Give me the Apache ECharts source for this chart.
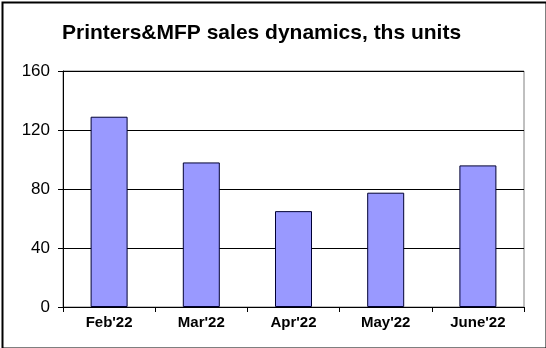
<!DOCTYPE html>
<html><head><meta charset="utf-8">
<script src="https://cdn.jsdelivr.net/npm/echarts@6/dist/echarts.min.js"></script>
<style>html,body{margin:0;padding:0;background:#fff}#c{width:546px;height:348px}</style>
</head><body><div id="c"></div>
<script>
const categories = ["Feb'22", "Mar'22", "Apr'22", "May'22", "June'22"];
const sales = [129, 98, 65, 77.5, 96];
const titleText = "Printers&MFP sales dynamics, ths units";

const chart = echarts.init(document.getElementById('c'), null, {renderer: 'canvas'});
chart.setOption({
  animation: false,
  backgroundColor: '#fff',
  title: {
    text: titleText, left: 57, top: 18,
    textStyle: {fontFamily: 'Liberation Sans', fontWeight: 'bold', fontSize: 21, color: '#000'}
  },
  graphic: [{
    type: 'rect', left: 0, top: 0, z: 100, silent: true,
    shape: {x: 0.5, y: 0.5, width: 544, height: 346},
    style: {fill: 'none', stroke: '#000', lineWidth: 2}
  }],
  grid: {left: 63, right: 22, top: 71, bottom: 41, show: true, borderColor: '#808080', borderWidth: 1},
  xAxis: {
    type: 'category', data: categories,
    axisLine: {lineStyle: {color: '#000', width: 1}},
    axisTick: {show: true, alignWithLabel: false, length: 5, lineStyle: {color: '#000'}},
    axisLabel: {fontFamily: 'Liberation Sans', fontWeight: 'bold', fontSize: 15, color: '#000', margin: 8}
  },
  yAxis: {
    type: 'value', min: 0, max: 160, interval: 40,
    axisLine: {show: true, lineStyle: {color: '#000', width: 1}},
    axisTick: {show: true, length: 5, lineStyle: {color: '#000'}},
    splitLine: {show: true, lineStyle: {color: '#000', width: 1}},
    axisLabel: {fontFamily: 'Liberation Sans', fontSize: 17, color: '#000', margin: 13}
  },
  series: [{
    type: 'bar', data: sales, barWidth: 37,
    itemStyle: {color: '#9999FF', borderColor: '#000033', borderWidth: 1}
  }]
});
</script></body></html>
